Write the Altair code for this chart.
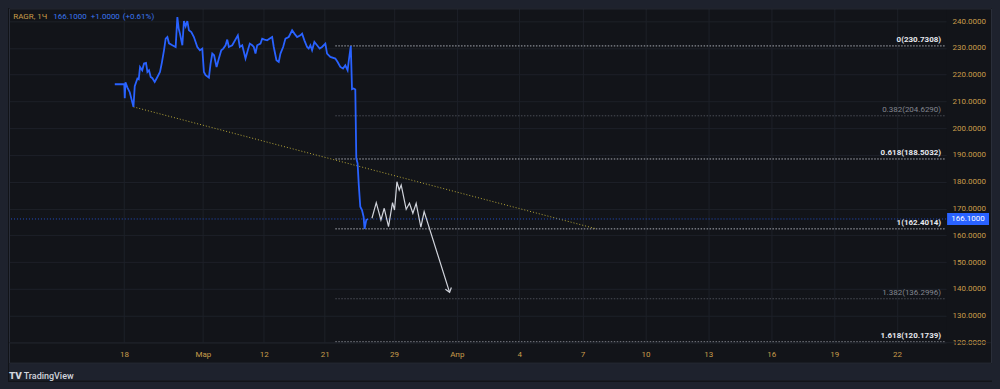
import json
import altair as alt
import pandas as pd

# ---------------- data ----------------
# x = hourly bar index of the TradingView time scale, y = price (RUB)
blue_t = [53.0, 57.75, 58.0, 58.35, 59.35, 60.5, 62.35, 63.0, 64.35, 65.0,
          65.65, 66.75, 67.65, 68.65, 69.35, 70.15, 71.0, 71.85, 73.0, 74.35,
          75.65, 76.5, 77.65, 78.5, 79.35, 80.15, 81.85, 83.5, 84.35, 85.0,
          85.65, 86.85, 87.65, 88.5, 89.35, 90.15, 91.35, 92.65, 94.35, 95.65,
          96.85, 97.65, 98.5, 100.15, 101.0, 101.85, 102.75, 104.0, 105.15, 106.35,
          107.35, 108.5, 109.35, 110.15, 111.85, 114.65, 115.65, 116.85, 118.5, 119.65,
          120.65, 121.85, 122.65, 123.5, 124.35, 126.0, 126.85, 128.0, 129.35, 130.65,
          131.85, 132.65, 134.0, 135.15, 136.0, 137.35, 138.5, 140.15, 141.85, 143.0,
          144.35, 146.0, 146.85, 148.0, 149.35, 150.15, 151.0, 151.85, 153.0, 154.35,
          155.65, 156.85, 158.5, 159.35, 161.0, 163.5, 164.65, 166.0, 167.35, 168.5,
          169.65, 170.15, 171.25, 171.85, 172.65, 173.5, 174.0, 174.65, 175.25, 176.0,
          176.85, 177.65, 178.15, 179.0, 179.85]
blue_p = [216.42, 216.42, 211.2, 217.17, 215.19, 213.44, 207.96, 215.68, 218.55, 218.29,
          222.87, 221.64, 224.14, 224.36, 221.01, 221.64, 219.14, 218.66, 217.28, 219.14,
          221.01, 224.14, 229.10, 233.46, 234.05, 231.70, 230.96, 230.33, 241.51, 237.29,
          235.32, 230.96, 240.02, 238.04, 240.02, 236.55, 235.92, 234.05, 230.33, 229.10,
          229.73, 221.01, 219.78, 218.92, 224.14, 227.87, 227.23, 222.87, 226.00, 229.10,
          229.73, 230.96, 233.08, 230.33, 230.96, 234.69, 230.33, 230.96, 226.00, 229.10,
          231.59, 230.96, 230.33, 227.87, 230.96, 231.59, 233.46, 233.08, 232.82, 233.46,
          234.05, 230.33, 225.37, 224.73, 227.87, 230.33, 233.46, 234.05, 236.55, 235.32,
          234.05, 234.69, 235.32, 232.82, 230.33, 229.73, 230.96, 229.10, 232.19, 230.96,
          229.73, 230.33, 231.59, 227.87, 226.60, 226.00, 224.73, 222.87, 222.27, 223.50,
          221.64, 224.73, 230.73, 214.56, 214.82, 214.45, 188.73, 186.87, 178.78, 170.69,
          169.46, 166.96, 162.40, 165.73, 166.10]

proj_t = [181.85, 184.0, 186.35, 188.0, 190.15, 192.15, 193.15, 194.35, 195.5, 196.5,
          199.0, 200.65, 202.35, 204.0, 206.35, 208.0, 220.75]
proj_p = [166.37, 172.18, 165.73, 170.09, 163.24, 172.18, 169.46, 180.01, 176.91, 178.78,
          169.72, 171.96, 168.23, 171.96, 163.01, 168.83, 138.71]

trend_t = [62.35, 294.35]
trend_p = [207.96, 162.40]

fib_ratio = ["0", "0.382", "0.618", "1", "1.382", "1.618"]
fib_price = [230.7308, 204.6290, 188.5032, 162.4014, 136.2996, 120.1739]
fib_span = [163.5, 469.5]

last_price = 166.10
last_label = "166.1000"

header_symbol = "RAGR, 1Ч"
header_values = ["166.1000", "+1.0000", "(+0.61%)"]
brand = "TradingView"

time_pos = [57.65, 97.15, 127.65, 158.15, 192.85, 224.35, 255.65, 287.35,
            318.85, 350.35, 381.85, 413.5, 444.85]
time_lab = ["18", "Мар", "12", "21", "29", "Апр", "4", "7", "10", "13", "16", "19", "22"]
price_ticks = [120, 130, 140, 150, 160, 170, 180, 190, 200, 210, 220, 230, 240]

X_DOMAIN = [0, 469.5]
Y_DOMAIN = [119.89, 244.75]

# ---------------- styles ----------------
OUTER = "#1e222d"
INNER = "#121419"
GRID = "#1d2028"
BORDER = "#2a2e39"
GOLD = "#c99d4a"
BLUE = "#2962ff"
HBLUE = "#3b77f0"
WHITE = "#d1d4dc"
FONT = "Roboto"
DIM_LEVELS = {"0.382", "1.382"}

W, H = 939, 335

# ---------------- frames ----------------
blue_df = pd.DataFrame({"t": blue_t, "p": blue_p})
proj_df = pd.DataFrame({"t": proj_t, "p": proj_p})
tip_df = pd.DataFrame({"t": [proj_t[-1]], "p": [proj_p[-1]]})
trend_df = pd.DataFrame({"t": trend_t, "p": trend_p})
fib_df = pd.DataFrame({
    "t": [fib_span[0]] * len(fib_price),
    "t2": [fib_span[1]] * len(fib_price),
    "te": [fib_span[1]] * len(fib_price),
    "p": fib_price,
    "label": [f"{r}({v:.4f})" for r, v in zip(fib_ratio, fib_price)],
    "dim": [r in DIM_LEVELS for r in fib_ratio],
})
fib_hi = fib_df[~fib_df["dim"]]
fib_lo = fib_df[fib_df["dim"]]
last_df = pd.DataFrame({"p": [last_price], "label": [last_label]})
one = pd.DataFrame({"a": [0]})

label_expr = (f"{json.dumps(time_lab, ensure_ascii=False)}"
              f"[indexof({json.dumps(time_pos)}, datum.value)]")

xs = alt.Scale(domain=X_DOMAIN, nice=False, zero=False)
ys = alt.Scale(domain=Y_DOMAIN, nice=False, zero=False)
xaxis = alt.Axis(values=time_pos, labelExpr=label_expr, title=None, orient="bottom",
                 grid=True, gridColor=GRID, gridWidth=1, domain=False, ticks=False,
                 tickSize=0, labelColor=GOLD, labelFont=FONT, labelFontSize=8,
                 labelPadding=12, labelBaseline="middle", labelFlush=False,
                 labelOverlap=False)
yaxis = alt.Axis(values=price_ticks, format=".4f", title=None, orient="right",
                 grid=True, gridColor=GRID, gridWidth=1, domain=False, ticks=False,
                 tickSize=0, labelColor=GOLD, labelFont=FONT, labelFontSize=8,
                 labelPadding=6, labelAlign="left", labelFlush=False,
                 labelOverlap=False)
X = alt.X("t:Q", scale=xs, axis=xaxis)
Y = alt.Y("p:Q", scale=ys, axis=yaxis)

layers = []

# chrome band under the pane (logo strip)
layers.append(alt.Chart(one).mark_rect(fill=OUTER, clip=False).encode(
    x=alt.value(0), x2=alt.value(985), y=alt.value(356), y2=alt.value(373)))

# fib levels
layers.append(alt.Chart(fib_lo).mark_rule(color="#4a4d56", strokeDash=[1.5, 1.5],
                                           strokeWidth=1).encode(x=X, x2="t2:Q", y=Y))
layers.append(alt.Chart(fib_hi).mark_rule(color="#a9acb5", strokeDash=[1.5, 1.5],
                                           strokeWidth=1).encode(x=X, x2="t2:Q", y=Y))
# trend line
layers.append(alt.Chart(trend_df).mark_line(color="#b5a638", strokeDash=[1, 2],
                                             strokeWidth=1).encode(x=X, y=Y))
# last price line
layers.append(alt.Chart(last_df).mark_rule(color=BLUE, strokeDash=[1, 2], strokeWidth=1,
                                            opacity=0.75).encode(y=Y))
# price series
layers.append(alt.Chart(blue_df).mark_line(color=BLUE, strokeWidth=1.8).encode(x=X, y=Y))
# projected path
layers.append(alt.Chart(proj_df).mark_line(color=WHITE, strokeWidth=1.2).encode(x=X, y=Y))
layers.append(alt.Chart(tip_df).mark_point(shape="M-1,-1.3L0,0L1,-1.3", filled=False,
                                            color=WHITE, strokeWidth=1.2, size=40,
                                            angle=342.5, opacity=1).encode(x=X, y=Y))
# fib labels
layers.append(alt.Chart(fib_hi).mark_text(align="right", baseline="bottom", dx=-5, dy=-2,
                                           font=FONT, fontSize=8, fontWeight="bold",
                                           color="#e6e8ee").encode(
    x=alt.X("te:Q", scale=xs, axis=xaxis), y=Y, text="label:N"))
layers.append(alt.Chart(fib_lo).mark_text(align="right", baseline="bottom", dx=-5, dy=-2,
                                           font=FONT, fontSize=8, color="#83868f").encode(
    x=alt.X("te:Q", scale=xs, axis=xaxis), y=Y, text="label:N"))
# last price badge on the price scale
layers.append(alt.Chart(last_df).mark_point(
    shape="M-1,-0.29L1,-0.29L1,0.29L-1,0.29Z", filled=True, color=BLUE, size=1764,
    opacity=1, clip=False).encode(x=alt.value(961), y=Y))
layers.append(alt.Chart(last_df).mark_text(font=FONT, fontSize=8, color="white",
                                            align="center", baseline="middle",
                                            clip=False).encode(
    x=alt.value(961), y=Y, text="label:N"))
# header
hdr_x = [44.3, 82.0, 114.0]
layers.append(alt.Chart(one).mark_text(text=header_symbol, font=FONT, fontSize=8,
                                        color=GOLD, align="left", baseline="middle").encode(
    x=alt.value(4.3), y=alt.value(8.7)))
for xv, txt in zip(hdr_x, header_values):
    layers.append(alt.Chart(one).mark_text(text=txt, font=FONT, fontSize=8, color=HBLUE,
                                            align="left", baseline="middle").encode(
        x=alt.value(xv), y=alt.value(8.7)))
# frame
layers.append(alt.Chart(one).mark_rect(fill="transparent", stroke=BORDER, strokeWidth=1,
                                        clip=False).encode(
    x=alt.value(0.5), x2=alt.value(984.5), y=alt.value(0.5), y2=alt.value(355.5)))
layers.append(alt.Chart(one).mark_rule(color=GRID, strokeWidth=1, clip=False).encode(
    x=alt.value(0), x2=alt.value(984), y=alt.value(H), y2=alt.value(H)))
# brand
layers.append(alt.Chart(one).mark_text(text="TV", font=FONT, fontSize=10, fontWeight=900,
                                        color=WHITE, align="center", baseline="middle",
                                        clip=False).encode(
    x=alt.value(6.5), y=alt.value(368.5)))
layers.append(alt.Chart(one).mark_text(text=brand, font=FONT, fontSize=9, fontWeight=500,
                                        color=WHITE, align="left", baseline="middle",
                                        clip=False).encode(
    x=alt.value(14.7), y=alt.value(368.5)))

chart = alt.layer(*layers).properties(
    width=W, height=H, background=INNER, padding=0
).configure_view(fill=INNER, stroke="transparent")

TEMPLATE = None
try:
    import jinja2
    TEMPLATE = jinja2.Template("""<!DOCTYPE html>
<html>
<head>
  <style>
    body { background: #1e222d; overflow: hidden; }
    #{{ output_div }}.vega-embed { width: 100%; display: flex; }
  </style>
  <script type="text/javascript" src="{{ base_url }}/vega@{{ vega_version }}"></script>
  <script type="text/javascript" src="{{ base_url }}/vega-lite@{{ vegalite_version }}"></script>
  <script type="text/javascript" src="{{ base_url }}/vega-embed@{{ vegaembed_version }}"></script>
</head>
<body>
  <div id="{{ output_div }}"></div>
  <script>
    (function(vegaEmbed) {
      var spec = {{ spec }};
      var embedOpt = {{ embed_options }};
      function showError(el, error){
        el.innerHTML = '<div style="color:red;"><p>JavaScript Error: ' + error.message + '</p></div>';
        throw error;
      }
      const el = document.getElementById('{{ output_div }}');
      vegaEmbed("#{{ output_div }}", spec, embedOpt).catch(error => showError(el, error));
    })(vegaEmbed);
  </script>
</body>
</html>""")
except Exception:
    TEMPLATE = None

try:
    if TEMPLATE is None:
        raise RuntimeError("no template")
    chart.save("out.html", embed_options={"renderer": "svg", "actions": False},
               template=TEMPLATE)
except Exception:
    chart.save("out.html", embed_options={"renderer": "svg", "actions": False})
